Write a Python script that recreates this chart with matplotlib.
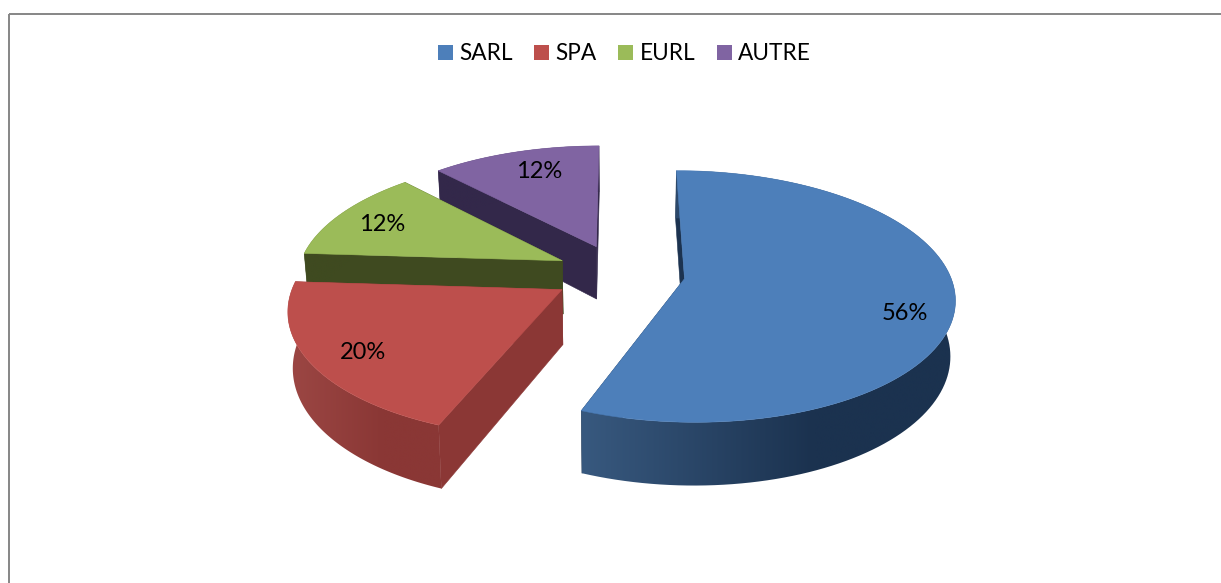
import numpy as np
import matplotlib
matplotlib.use("Agg")
import matplotlib.pyplot as plt
from matplotlib.colors import to_rgb
from matplotlib.patches import Patch, Polygon, Rectangle

categories = ["SARL", "SPA", "EURL", "AUTRE"]
shares = [56, 20, 12, 12]
labels = ["56%", "20%", "12%", "12%"]

top_colors = ["#4d7fba", "#bd4f4c", "#9bbb59", "#8064a2"]
rim_light = ["#38597f", "#9c4744", "#3f4a20", "#33284a"]
rim_dark = ["#1b324f", "#8a3735", "#3f4a20", "#33284a"]
face_colors = ["#1c3350", "#8b3735", "#3f4a20", "#33284a"]
label_radius = [0.83, 0.82, 0.8, 0.76]
label_frac = [0.54, 0.47, 0.47, 0.55]
explode = [0.25, 0.25, 0.24, 0.24]

# pie layout in pixels
cx, cy = 619, 273
rx, ry = 265, 121.7
persp = 0.14
depth = 54
shrink = 0.985  # lower face sits further from the viewer
start = 0.0


def project(gx, gy):
    f = 1 / (1 + persp * gy)
    return cx + rx * gx * f, cy - ry * gy * f, f


def ground(angle, r, off_x, off_y):
    return off_x + r * np.sin(angle), off_y + r * np.cos(angle)


def drop(gx, gy):
    x, y, f = project(gx, gy)
    return cx + (x - cx) * shrink, y + depth * f


fig = plt.figure(figsize=(12.21, 5.83), dpi=100)
ax = fig.add_axes([0, 0, 1, 1])

ax.add_patch(Rectangle((8.5, 13.5), 1400, 800, fill=False, edgecolor="#868686", linewidth=1.4))

sweeps = np.array(shares) / sum(shares) * 360
starts = start + np.concatenate(([0], np.cumsum(sweeps)[:-1]))
order = [3, 2, 1, 0]  # back slices first

for n, i in enumerate(order):
    z = 2 + n * 3
    a0 = np.radians(starts[i])
    a1 = np.radians(starts[i] + sweeps[i])
    mid = (a0 + a1) / 2
    ox, oy = explode[i] * np.sin(mid), explode[i] * np.cos(mid)
    angles = np.linspace(a0, a1, 120)
    gx, gy = ground(angles, 1.0, ox, oy)
    sx, sy, _ = project(gx, gy)
    bx, by = drop(gx, gy)
    ax0, ay0, _ = project(ox, oy)
    bx0, by0 = drop(ox, oy)

    # radial faces, the back one ends up under the rim and top
    for k in (0, -1):
        ax.fill([ax0, sx[k], bx[k], bx0], [ay0, sy[k], by[k], by0],
                color=face_colors[i], linewidth=0.4, zorder=z)

    # outer rim, gradient left to right clipped to the rim outline
    light, dark = np.array(to_rgb(rim_light[i])), np.array(to_rgb(rim_dark[i]))
    t = np.clip(np.linspace(0, 1 / 0.62, 256), 0, 1)[:, None]
    grad = (light + (dark - light) * t)[None, :, :]
    im = ax.imshow(grad, extent=(min(sx.min(), bx.min()), max(sx.max(), bx.max()), by.max(), sy.min()),
                   aspect="auto", zorder=z + 1, interpolation="bilinear")
    rim = Polygon(np.c_[np.r_[sx, bx[::-1]], np.r_[sy, by[::-1]]], transform=ax.transData)
    im.set_clip_path(rim)

    # top surface
    ax.fill(np.r_[ax0, sx], np.r_[ay0, sy], color=top_colors[i], linewidth=0.4, zorder=z + 2)

    la = a0 + (a1 - a0) * label_frac[i]
    lx, ly = ground(la, label_radius[i], ox, oy)
    tx, ty, _ = project(lx, ly)
    ax.text(tx, ty, labels[i], ha="center", va="center", fontsize=17,
            family="Lato", color="black", zorder=50)

ax.set_xlim(0, 1221)
ax.set_ylim(583, 0)
ax.axis("off")

handles = [Patch(facecolor=c, edgecolor="none", label=n) for c, n in zip(top_colors, categories)]
leg = ax.legend(handles=handles, loc="center", bbox_to_anchor=(624.5, 54),
                bbox_transform=ax.transData, ncol=4, frameon=False,
                prop={"family": "Lato", "size": 16.3},
                handlelength=0.655, handleheight=0.655, handletextpad=0.28,
                columnspacing=0.96, borderpad=0)

fig.savefig("out.png", dpi=100)
plt.close(fig)
